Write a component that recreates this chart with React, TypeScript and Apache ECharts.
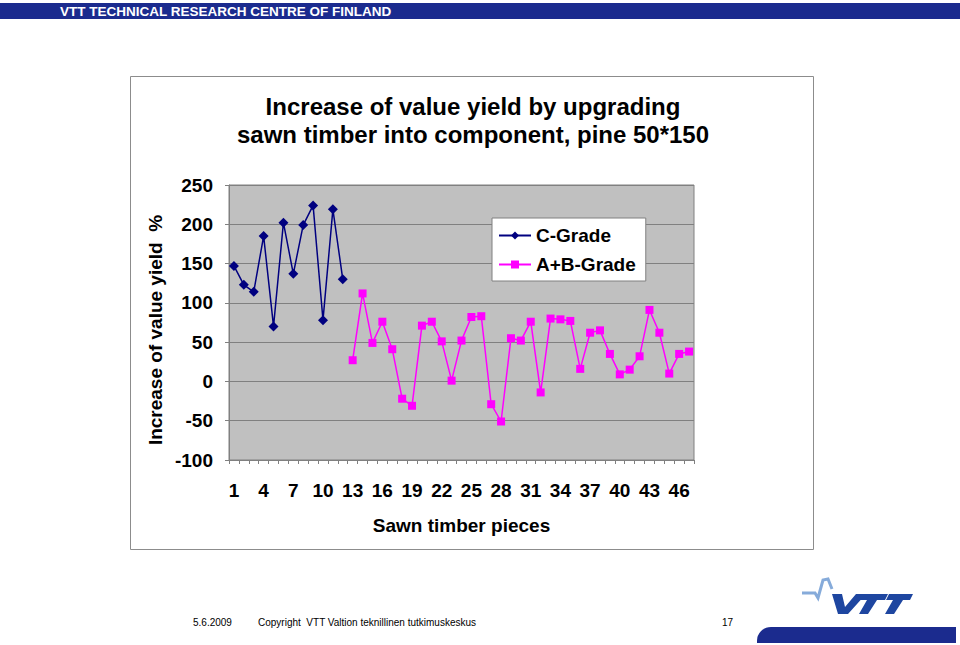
import React, { useEffect, useRef } from "react";
import * as echarts from "echarts";

const categories = ["1","2","3","4","5","6","7","8","9","10","11","12","13","14","15","16","17","18","19","20","21","22","23","24","25","26","27","28","29","30","31","32","33","34","35","36","37","38","39","40","41","42","43","44","45","46","47"];

const cGrade = [147, 123, 114, 185, 70, 202, 137, 199, 224, 78, 219, 130,
  null, null, null, null, null, null, null, null, null, null, null, null,
  null, null, null, null, null, null, null, null, null, null, null, null,
  null, null, null, null, null, null, null, null, null, null, null];

const abGrade = [null, null, null, null, null, null, null, null, null, null, null, null,
  27, 112, 49, 76, 41, -22, -31, 71, 76, 51, 1, 52, 82, 83, -29, -51, 55, 52, 76, -14,
  80, 79, 77, 16, 62, 65, 35, 9, 15, 32, 91, 62, 10, 35, 38];

const seriesNames = ["C-Grade", "A+B-Grade"];
const titleLines = ["Increase of value yield by upgrading", "sawn timber into component, pine 50*150"];
const yAxisTitle = "Increase of value yield  %";
const xAxisTitle = "Sawn timber pieces";
const headerText = "VTT TECHNICAL RESEARCH CENTRE OF FINLAND";
const footerDate = "5.6.2009";
const footerCopyright = "Copyright  VTT Valtion teknillinen tutkimuskeskus";
const footerPage = "17";

const FONT = 'Arial, "Liberation Sans", Helvetica, sans-serif';

export default function App() {
  const ref = useRef<HTMLDivElement>(null);
  useEffect(() => {
    if (!ref.current) return;
    const chart = echarts.init(ref.current, null, { renderer: "svg" });
    const axisGray = "#808080";
    chart.setOption({
      animation: false,
      backgroundColor: "#ffffff",
      textStyle: { fontFamily: FONT },
      grid: {
        left: 229, top: 185, width: 465, height: 275,
        show: true, backgroundColor: "#C0C0C0", borderColor: axisGray, borderWidth: 1,
        containLabel: false,
      },
      legend: {
        left: 492, top: 218, orient: "vertical",
        backgroundColor: "#ffffff", borderColor: axisGray, borderWidth: 1,
        padding: [8, 10, 7, 6], itemGap: 10, itemWidth: 32, itemHeight: 10,
        textStyle: { fontFamily: FONT, fontSize: 19, fontWeight: "bold", color: "#000" },
        data: seriesNames,
      },
      xAxis: {
        type: "category", data: categories, boundaryGap: true,
        name: xAxisTitle, nameLocation: "middle", nameGap: 56,
        nameTextStyle: { fontFamily: FONT, fontSize: 19, fontWeight: "bold", color: "#000" },
        axisLine: { show: true, onZero: false, lineStyle: { color: axisGray, width: 1 } },
        axisTick: { show: true, interval: 0, length: 4, lineStyle: { color: axisGray } },
        axisLabel: { interval: 2, margin: 21, fontFamily: FONT, fontSize: 19, fontWeight: "bold", color: "#000" },
        splitLine: { show: false },
      },
      yAxis: {
        type: "value", min: -100, max: 250, interval: 50,
        axisLine: { show: true, lineStyle: { color: axisGray, width: 1 } },
        axisTick: { show: true, length: 4, lineStyle: { color: axisGray } },
        axisLabel: { margin: 16, fontFamily: FONT, fontSize: 19, fontWeight: "bold", color: "#000" },
        splitLine: { show: true, lineStyle: { color: axisGray, width: 1 } },
      },
      series: [
        {
          name: seriesNames[0], type: "line", data: cGrade,
          symbol: "diamond", symbolSize: 10, showAllSymbol: true,
          itemStyle: { color: "#000080" },
          lineStyle: { color: "#000080", width: 1.5 },
          connectNulls: false,
        },
        {
          name: seriesNames[1], type: "line", data: abGrade,
          symbol: "rect", symbolSize: 8, showAllSymbol: true,
          itemStyle: { color: "#FF00FF" },
          lineStyle: { color: "#FF00FF", width: 1.5 },
          connectNulls: false,
        },
      ],
      graphic: [
        { type: "rect", z: -10, shape: { x: 0, y: 3, width: 960, height: 16 }, style: { fill: "#1B2B8E" } },
        { type: "text", z: 10, x: 60, y: 11.5, style: { text: headerText, fill: "#ffffff", font: `bold 13.5px ${FONT}`, textVerticalAlign: "middle" } },
        { type: "rect", z: -10, shape: { x: 130.5, y: 76.5, width: 683, height: 473 }, style: { fill: "#ffffff", stroke: "#8c8c8c", lineWidth: 1 } },
        { type: "text", z: 10, x: 473, y: 106, style: { text: titleLines[0], fill: "#000", font: `bold 24px ${FONT}`, textAlign: "center", textVerticalAlign: "middle" } },
        { type: "text", z: 10, x: 473, y: 134, style: { text: titleLines[1], fill: "#000", font: `bold 24px ${FONT}`, textAlign: "center", textVerticalAlign: "middle" } },
        { type: "text", z: 10, x: 155, y: 330, rotation: Math.PI / 2, style: { text: yAxisTitle, fill: "#000", font: `bold 19px ${FONT}`, textAlign: "center", textVerticalAlign: "middle" } },
        { type: "text", z: 10, x: 193, y: 622, style: { text: footerDate, fill: "#000", font: `10px ${FONT}`, textVerticalAlign: "middle" } },
        { type: "text", z: 10, x: 258, y: 622, style: { text: footerCopyright, fill: "#000", font: `10px ${FONT}`, textVerticalAlign: "middle" } },
        { type: "text", z: 10, x: 722, y: 622, style: { text: footerPage, fill: "#000", font: `10px ${FONT}`, textVerticalAlign: "middle" } },
        { type: "rect", z: 5, shape: { x: 757, y: 627, width: 199, height: 16, r: [14, 0, 0, 0] }, style: { fill: "#1B2B8E" } },
        { type: "polyline", z: 5, shape: { points: [[802, 593], [815, 593], [818, 598], [823, 580], [828, 579], [832, 589]] }, style: { stroke: "#86ABDA", lineWidth: 3, fill: null } },
        { type: "polygon", z: 5, shape: { points: [[832, 594], [842, 594], [845, 607], [856, 594], [866, 594], [848, 614], [838, 614]] }, style: { fill: "#1E46A0" } },
        { type: "polygon", z: 5, shape: { points: [[858, 594], [888, 594], [885, 600], [877, 600], [868, 614], [859, 614], [867, 600], [854, 600]] }, style: { fill: "#1E46A0" } },
        { type: "polygon", z: 5, shape: { points: [[889, 594], [913, 594], [910, 600], [903, 600], [894, 614], [885, 614], [893, 600], [886, 600]] }, style: { fill: "#1E46A0" } },
      ],
    });
    return () => chart.dispose();
  }, []);
  return <div ref={ref} style={{ position: "fixed", left: 0, top: 0, width: 960, height: 645 }} />;
}
